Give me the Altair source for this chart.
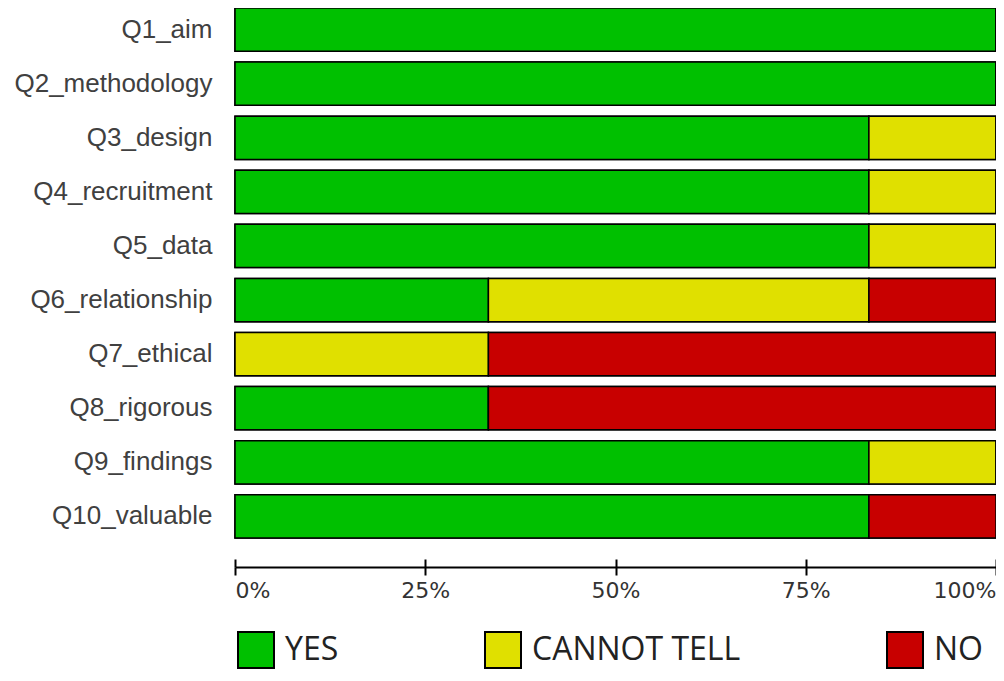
import altair as alt
import pandas as pd

questions = ["Q1_aim", "Q2_methodology", "Q3_design", "Q4_recruitment", "Q5_data",
             "Q6_relationship", "Q7_ethical", "Q8_rigorous", "Q9_findings", "Q10_valuable"]
categories = ["YES", "CANNOT TELL", "NO"]
colors = ["#00C000", "#E0E000", "#C80000"]

yes_pct = [100, 100, 83.3, 83.3, 83.3, 33.3, 0, 33.3, 83.3, 83.3]
cannot_pct = [0, 0, 16.7, 16.7, 16.7, 50, 33.3, 0, 16.7, 0]
no_pct = [0, 0, 0, 0, 0, 16.7, 66.7, 66.7, 0, 16.7]

rows = []
for i, q in enumerate(questions):
    for k, (cat, vals) in enumerate(zip(categories, [yes_pct, cannot_pct, no_pct])):
        rows.append({"question": q, "category": cat, "pct": vals[i], "ord": k})
df = pd.DataFrame(rows)

xscale = alt.Scale(domain=[0, 100], nice=False, zero=True)

base = alt.Chart(df).mark_bar(stroke="black", strokeWidth=1.5).encode(
    y=alt.Y("question:N", sort=questions, title=None,
            scale=alt.Scale(paddingInner=0.2, paddingOuter=0),
            axis=alt.Axis(domain=False, ticks=False, labelFont="Liberation Sans",
                          labelFontSize=26, labelColor="#404040", labelPadding=23,
                          labelLimit=0)),
    color=alt.Color("category:N", sort=categories,
                    scale=alt.Scale(domain=categories, range=colors),
                    legend=alt.Legend(orient="none", legendX=2, legendY=623,
                                      direction="horizontal", title=None,
                                      labelFont="Open Sans", labelFontSize=32,
                                      labelColor="#222222", labelLimit=0,
                                      symbolType="square", symbolSize=1296,
                                      symbolStrokeColor="black", symbolStrokeWidth=2,
                                      symbolOpacity=1,
                                      labelOffset=10, columnPadding=142, padding=0)),
    order=alt.Order("ord:Q"),
)

main = base.encode(
    x=alt.X("pct:Q", stack="zero", title=None, scale=xscale,
            axis=alt.Axis(orient="bottom", values=[0, 25, 50, 75, 100], offset=29,
                          domainColor="black", domainWidth=2, tickColor="black",
                          tickWidth=2, tickSize=8, labelPadding=5,
                          labelFont="DejaVu Sans", labelFontSize=22, labelColor="#333333",
                          labelFlush=True, grid=False,
                          labelExpr="datum.value + '%'"))
)

upper_ticks = base.encode(
    x=alt.X("pct:Q", stack="zero", title=None, scale=xscale,
            axis=alt.Axis(orient="bottom", values=[0, 25, 50, 75, 100], offset=21,
                          domain=False, tickColor="black", tickWidth=2, tickSize=8,
                          labels=False, grid=False))
)

chart = alt.layer(main, upper_ticks).resolve_axis(x="independent").properties(
    width=761, height=530,
    autosize=alt.AutoSizeParams(type="none"),
    padding={"left": 227, "top": 0, "right": 0, "bottom": 131},
    background="white",
).configure_view(stroke=None)

chart.save("out.html", embed_options={"renderer": "svg", "actions": False})
